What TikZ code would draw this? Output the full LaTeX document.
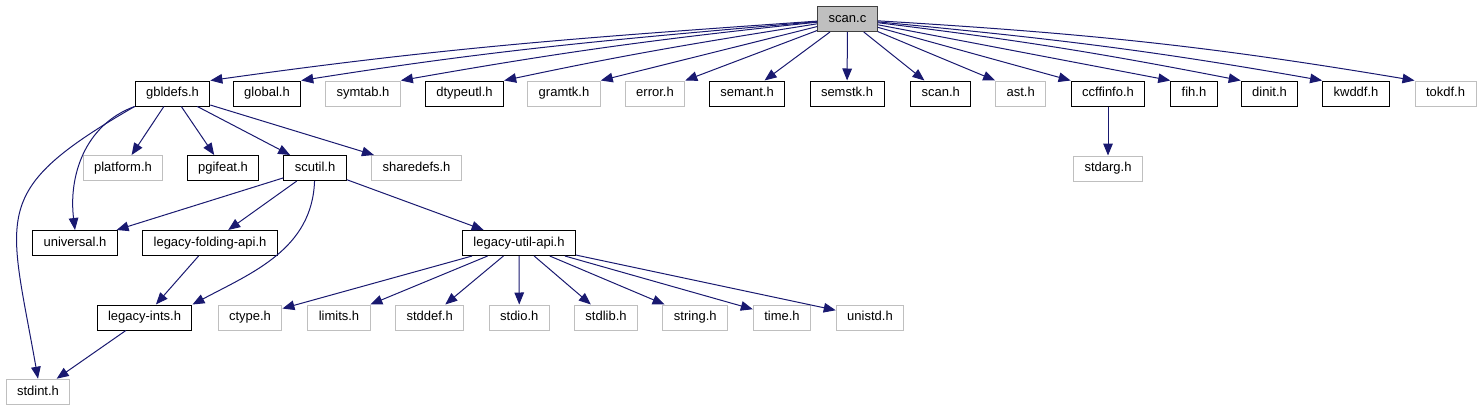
\documentclass[tikz,border=0pt]{standalone}
\usepackage{fontspec}
\setmainfont{Liberation Sans}
\usetikzlibrary{arrows.meta, positioning}
\definecolor{edgeblue}{HTML}{191970}
\definecolor{nodegray}{HTML}{BFBFBF}
\definecolor{rootline}{HTML}{404040}

\begin{document}
\begin{tikzpicture}[x=0.75pt, y=-0.75pt, ->, >={Triangle[length=9pt,width=7.2pt]},
    file/.style={draw=black, line width=0.75pt, inner xsep=8.25pt, inner ysep=0pt,
      minimum height=18.75pt, text height=7pt, text depth=2pt,
      font=\fontsize{9.75}{11}\selectfont},
    ext/.style={file, draw=nodegray},
    root/.style={file, fill=nodegray, draw=rootline},
    every edge/.append style={draw=edgeblue, line width=0.75pt}]
  \path[use as bounding box, -] (0,0) rectangle (1483,411);
  % top
  \node[root] (scan) at (847.5,19) {scan.c};
  % headers included by scan.c
  \node[file] (gbldefs)  at (172.5,93.5)  {gbldefs.h};
  \node[file] (global)   at (267,93.5)    {global.h};
  \node[ext]  (symtab)   at (363,93.5)    {symtab.h};
  \node[file] (dtypeutl) at (464.5,93.5)  {dtypeutl.h};
  \node[ext]  (gramtk)   at (564,93.5)    {gramtk.h};
  \node[ext]  (error)    at (655,93.5)    {error.h};
  \node[file] (semant)   at (747,93.5)    {semant.h};
  \node[file] (semstk)   at (847,93.5)    {semstk.h};
  \node[file] (scanh)    at (940.7,93.5)  {scan.h};
  \node[ext]  (ast)      at (1020.7,93.5) {ast.h};
  \node[file] (ccffinfo) at (1108,93.5)   {ccffinfo.h};
  \node[file] (fih)      at (1194,93.5)   {fih.h};
  \node[file] (dinit)    at (1269.5,93.5) {dinit.h};
  \node[file] (kwddf)    at (1356,93.5)   {kwddf.h};
  \node[ext]  (tokdf)    at (1445.5,93.5) {tokdf.h};
  % third row
  \node[ext]  (platform)  at (123,168)   {platform.h};
  \node[file] (pgifeat)   at (223,168)   {pgifeat.h};
  \node[file] (scutil)    at (315,168)   {scutil.h};
  \node[ext]  (sharedefs) at (416.5,168) {sharedefs.h};
  \node[ext, below=36.75pt of ccffinfo] (stdarg) {stdarg.h};
  % fourth row
  \node[file] (universal) at (75,243)  {universal.h};
  \node[file] (folding)   at (210,243) {legacy-folding-api.h};
  \node[file] (utilapi)   at (519,243) {legacy-util-api.h};
  % fifth row
  \node[file] (ints)   at (144.5,317.5) {legacy-ints.h};
  \node[ext]  (ctype)  at (250,317.5)   {ctype.h};
  \node[ext]  (limits) at (339,317.5)   {limits.h};
  \node[ext]  (stddef) at (429.7,317.5) {stddef.h};
  \node[ext]  (stdio)  at (519.3,317.5) {stdio.h};
  \node[ext]  (stdlib) at (606,317.5)   {stdlib.h};
  \node[ext]  (string) at (695.3,317.5) {string.h};
  \node[ext]  (time)   at (782,317.5)   {time.h};
  \node[ext]  (unistd) at (870,317.5)   {unistd.h};
  \node[ext]  (stdint) at (38,391.7)    {stdint.h};

  \path (scan) edge[out=184, in=8]  (gbldefs.north east)
        (scan) edge[out=185, in=9]  (global.north east)
        (scan) edge[out=186, in=10] (symtab.north east)
        (scan) edge[out=189, in=12] (dtypeutl.north east)
        (scan) edge (gramtk.north east)
        (scan) edge (error.north east)
        (scan) edge (semant)
        (scan) edge (semstk)
        (scan) edge (scanh)
        (scan) edge (ast.north west)
        (scan) edge (ccffinfo.north west)
        (scan) edge (fih.north west)
        (scan) edge[out=-7, in=169]     (dinit.north west)
        (scan) edge[out=-5.5, in=170]   (kwddf.north west)
        (scan) edge[out=-3.5, in=170.5] (tokdf.north west);
  \path (gbldefs) edge (platform)
        (gbldefs) edge (pgifeat)
        (gbldefs) edge (scutil)
        (gbldefs) edge (sharedefs)
        (gbldefs.south west) edge[out=200, in=97] (universal.north)
        (gbldefs.south west) edge[out=210, in=100, looseness=1.5] (stdint.north)
        (ccffinfo) edge (stdarg);
  \path (scutil) edge (universal)
        (scutil) edge (folding)
        (scutil) edge[out=268, in=28] (ints.north east)
        (scutil) edge (utilapi)
        (folding) edge (ints)
        (ints) edge (stdint);
  \path (utilapi) edge (ctype)
        (utilapi) edge (limits)
        (utilapi) edge (stddef)
        (utilapi) edge (stdio)
        (utilapi) edge (stdlib)
        (utilapi) edge (string)
        (utilapi) edge (time)
        (utilapi) edge (unistd);
\end{tikzpicture}
\end{document}
